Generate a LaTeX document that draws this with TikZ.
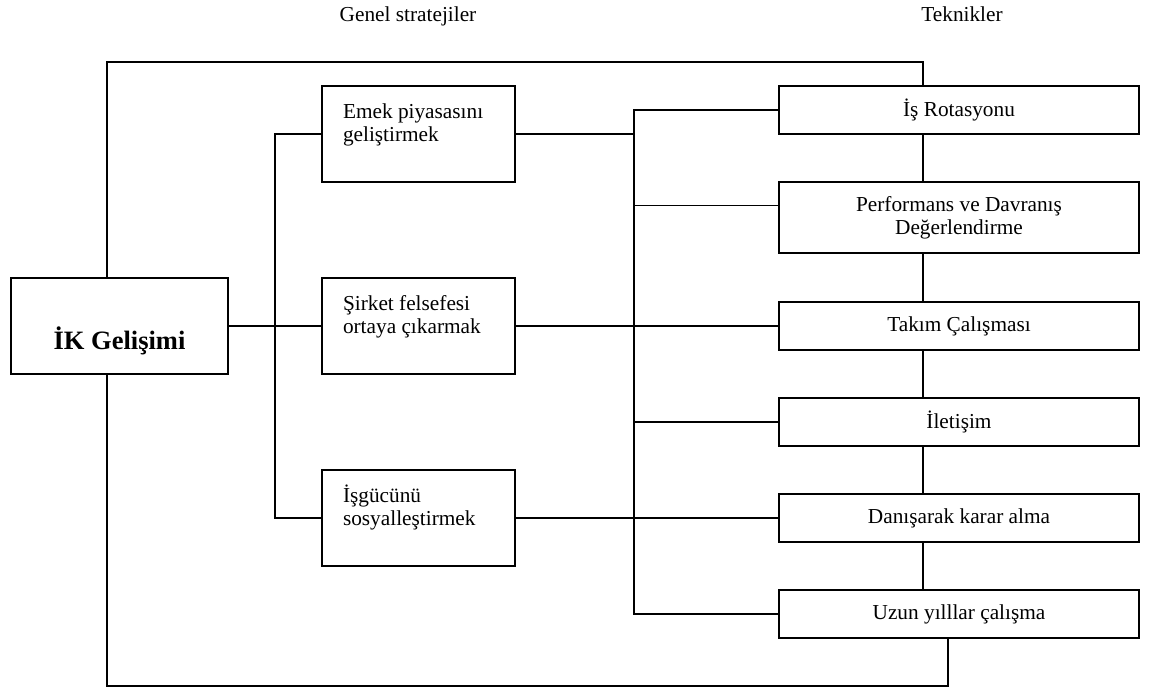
\documentclass[tikz,border=0pt]{standalone}
\usepackage{fontspec}
\setmainfont{Liberation Serif}
\usetikzlibrary{calc}

% text block of a strategy box: two left-aligned lines near the top
\newcommand{\stratext}[2]{\vbox to 96pt{\offinterlineskip\vskip 32pt
  \hbox to 193pt{\hskip 21pt\smash{#1}\hfil}\vskip 23pt
  \hbox to 193pt{\hskip 21pt\smash{#2}\hfil}\vfil}}
% text block of the root box: one bold line below the middle
\newcommand{\roottext}[1]{\vbox to 96pt{\offinterlineskip\vskip 71pt
  \hbox to 217pt{\hfil\smash{\bfseries\fontsize{26.5}{30}\selectfont #1}\hfil}\vfil}}

\begin{document}
\begin{tikzpicture}[x=1pt, y=-1pt,
    every node/.style={font=\fontsize{21.3}{23}\selectfont},
    link/.style={line width=1.4pt, line cap=rect},
    rootbox/.style={draw, line width=1.4pt, inner sep=0pt},
    stratbox/.style={draw, line width=1.4pt, inner sep=0pt},
    techbox/.style={draw, line width=1.4pt, inner sep=0pt, minimum width=360pt,
                    minimum height=48pt, align=center}]
  \useasboundingbox (0,0) rectangle (1157,693);

  % column headings
  \node[anchor=base] (h1) at (408,22) {Genel stratejiler};
  \node[anchor=base] (h2) at (962,22) {Teknikler};

  % root
  \node[rootbox] (ik) at (119.5,326) {\roottext{İK Gelişimi}};

  % general strategies
  \node[stratbox] (s1) at (418.5,134) {\stratext{Emek piyasasını}{geliştirmek}};
  \node[stratbox] (s2) at (418.5,326) {\stratext{Şirket felsefesi}{ortaya çıkarmak}};
  \node[stratbox] (s3) at (418.5,518) {\stratext{İşgücünü}{sosyalleştirmek}};

  % techniques
  \node[techbox] (t1) at (959,110) {İş Rotasyonu};
  \node[techbox, minimum height=71pt] (t2) at (959,217.5) {Performans ve Davranış\\Değerlendirme};
  \node[techbox] (t3) at (959,326) {Takım Çalışması};
  \node[techbox] (t4) at (959,422) {İletişim};
  \node[techbox] (t5) at (959,518) {Danışarak karar alma};
  \node[techbox] (t6) at (959,614) {Uzun yılllar çalışma};

  % bus and loop corners
  \coordinate (b1) at (275,134);
  \coordinate (b3) at (275,518);
  \coordinate (r1) at (634,110);
  \coordinate (r6) at (634,614);
  \coordinate (t2in) at ($(t2.north west)+(0,24)$);
  \coordinate (lt) at (107,62);
  \coordinate (rt) at (923,62);
  \coordinate (lb) at (107,686);
  \coordinate (rb) at (948,686);

  % root to strategies
  \draw[link] (ik.east) -- (s2.west);
  \draw[link] (s1.west) -- (b1) -- (b3) -- (s3.west);

  % strategies to techniques
  \draw[link] (t1.west) -- (r1) -- (r6) -- (t6.west);
  \draw[link] (s1.east) -- (s1.east -| r1);
  \draw[link] (s2.east) -- (t3.west);
  \draw[link] (s3.east) -- (t5.west);
  \draw[link] (r1 |- t2in) -- (t2in);
  \draw[link] (r1 |- t4.west) -- (t4.west);

  % chain of techniques
  \draw[link] (t1.south -| rt) -- (t2.north -| rt);
  \draw[link] (t2.south -| rt) -- (t3.north -| rt);
  \draw[link] (t3.south -| rt) -- (t4.north -| rt);
  \draw[link] (t4.south -| rt) -- (t5.north -| rt);
  \draw[link] (t5.south -| rt) -- (t6.north -| rt);

  % feedback loop round the whole
  \draw[link, line cap=butt] (lt |- ik.north) -- (lt) -- (rt) -- (rt |- t1.north);
  \draw[link, line cap=butt] (lb |- ik.south) -- (lb) -- (rb) -- (rb |- t6.south);
\end{tikzpicture}
\end{document}
